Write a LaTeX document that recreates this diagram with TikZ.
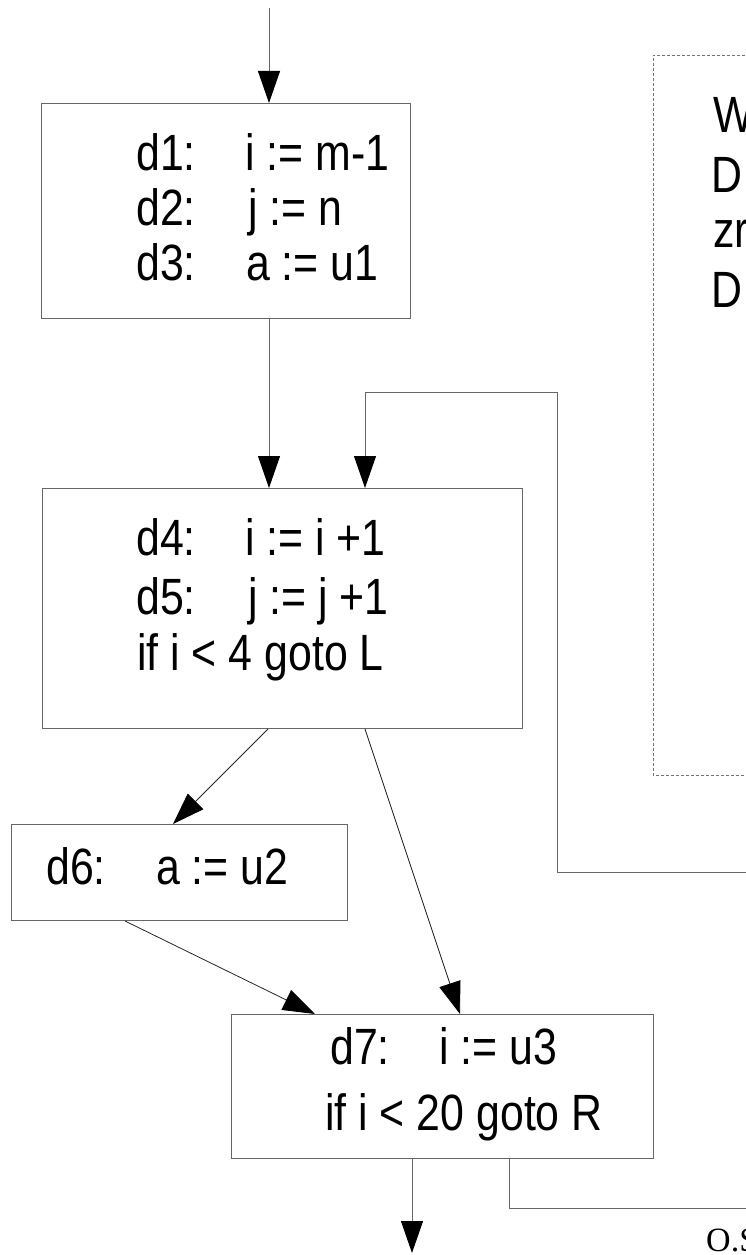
\documentclass[tikz,border=0pt]{standalone}
\usepackage{fontspec}
\setmainfont[FakeStretch=0.84]{Liberation Sans}
\newfontfamily\footfont{Liberation Serif}
\usetikzlibrary{arrows.meta,calc}
\tikzset{
  box/.style={draw=black!60, line width=1pt, rectangle, inner sep=0pt, anchor=north west},
  dbox/.style={draw=black!55, line width=0.9pt, dash pattern=on 3pt off 2pt},
  txt/.style={anchor=base west, inner sep=0pt, font=\fontsize{51}{60}\selectfont},
  tip/.style={-{Triangle[length=32pt,width=22pt,color=black,fill=black]}},
  arr/.style={draw=black!60, line width=1pt, tip},
  darr/.style={draw=black!85, line width=0.8pt, tip},
  ln/.style={draw=black!60, line width=1pt},
}
\begin{document}
\begin{tikzpicture}[x=1pt,y=-1pt]
\useasboundingbox (0,0) rectangle (746,1255);
% boxes
\node[box, minimum width=369pt, minimum height=215pt] (b1) at (41,103) {};
\node[box, minimum width=480pt, minimum height=240pt] (b2) at (41.5,488) {};
\node[box, minimum width=336pt, minimum height=96pt] (b6) at (11,824) {};
\node[box, minimum width=422pt, minimum height=144pt] (b7) at (231,1014) {};
\draw[dbox] (760,55) -- (653,55) -- (653,775) -- (760,775);
% texts box 1
\node[txt] (t1a) at (136,170) {d1:};
\node[txt] (t1b) at (245,170) {i := m-1};
\node[txt] (t2a) at (136,225) {d2:};
\node[txt] (t2b) at (248,225) {j := n};
\node[txt] (t3a) at (136,280) {d3:};
\node[txt] (t3b) at (246,280) {a := u1};
% box 2
\node[txt] (t4a) at (136,555) {d4:};
\node[txt] (t4b) at (245,555) {i := i +1};
\node[txt] (t5a) at (136,614) {d5:};
\node[txt] (t5b) at (248,614) {j := j +1};
\node[txt] (t6) at (137,670) {if i < 4 goto L};
% box d6
\node[txt] (t7a) at (46,884) {d6:};
\node[txt] (t7b) at (156,884) {a := u2};
% box d7
\node[txt] (t8a) at (330,1064) {d7:};
\node[txt] (t8b) at (439,1064) {i := u3};
\node[txt] (t9) at (325,1130) {if i < 20 goto R};
% dashed box text
\node[txt] (w1) at (713,132) {W};
\node[txt] (w2) at (711,192) {D};
\node[txt] (w3) at (713,247) {zr};
\node[txt] (w4) at (711,307) {D};
\node[anchor=base west, inner sep=0pt, font=\footfont\fontsize{34}{40}\selectfont] (foot) at (706,1251) {O.S};
% coordinates
\coordinate (in) at (269,8);
\coordinate (lp) at (760,872);
\coordinate (lc1) at (557,392);
\coordinate (out) at (412,1253);
\coordinate (rout) at (760,1208);
% connectors
\draw[arr] (in) -- (in |- b1.north);
\draw[arr] (b1.south -| in) -- (b2.north -| in);
\draw[arr] (lp) -| (lc1) -| ([xshift=323.5pt]b2.north west);
\draw[darr] ([xshift=226.5pt]b2.south west) -- ([xshift=162pt]b6.north west);
\draw[darr] ([xshift=323.5pt]b2.south west) -- ([xshift=229pt]b7.north west);
\draw[darr] ([xshift=114pt]b6.south west) -- ([xshift=84pt]b7.north west);
\draw[arr] ([xshift=181pt]b7.south west) -- (out);
\draw[ln] ([xshift=278pt]b7.south west) |- (rout);
\end{tikzpicture}
\end{document}
